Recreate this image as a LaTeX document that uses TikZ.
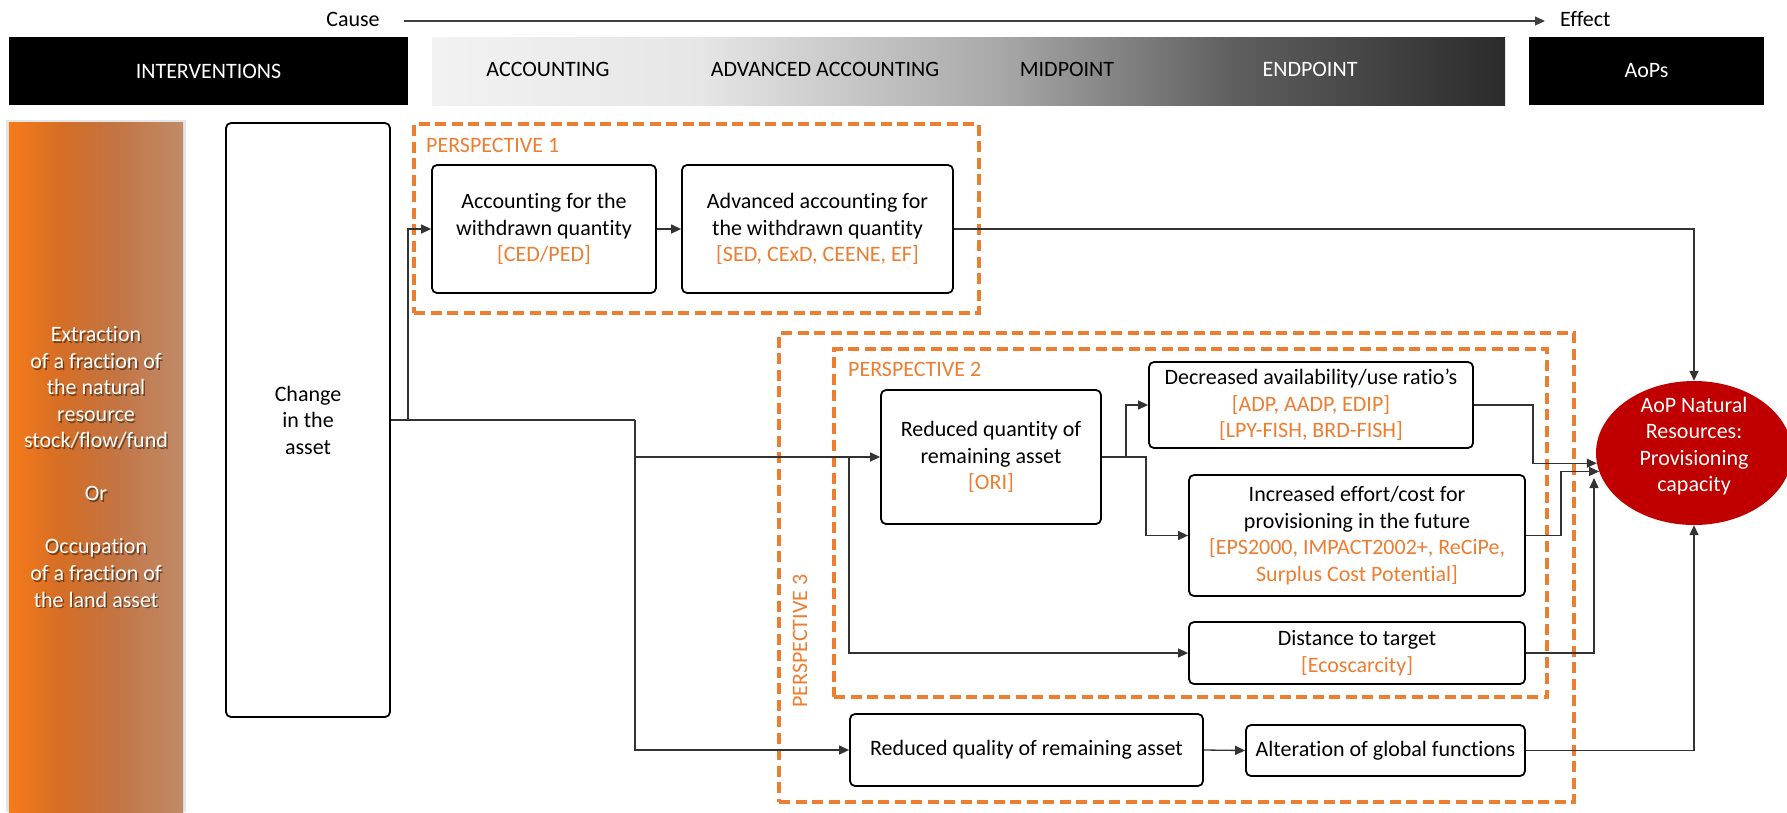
\documentclass[tikz,border=0pt]{standalone}
\usepackage{fontspec}
\setmainfont{Carlito}[Ligatures=NoCommon]
\usetikzlibrary{shapes.geometric,arrows.meta}

\definecolor{porange}{HTML}{ED7D31}
\definecolor{aopred}{HTML}{C00000}
\definecolor{linegray}{HTML}{333333}
% stage bar greys
\definecolor{hgA}{HTML}{F2F2F2}
\definecolor{hgB}{HTML}{E6E6E6}
\definecolor{hgC}{HTML}{A8A8A8}
\definecolor{hgD}{HTML}{5E5E5E}
\definecolor{hgE}{HTML}{2B2B2B}
% intervention panel oranges
\definecolor{poA}{HTML}{F67A1A}
\definecolor{poB}{HTML}{D56E26}
\definecolor{poC}{HTML}{C37442}
\definecolor{poD}{HTML}{C08A69}

\pgfdeclarehorizontalshading{stageshade}{100bp}{color(0bp)=(hgA); color(25bp)=(hgA); color(37.5bp)=(hgB); color(51.5bp)=(hgC); color(62.5bp)=(hgD); color(75bp)=(hgE); color(100bp)=(hgE)}
\pgfdeclarehorizontalshading{panelshade}{100bp}{color(0bp)=(poA); color(25bp)=(poA); color(40bp)=(poB); color(55bp)=(poC); color(75bp)=(poD); color(100bp)=(poD)}

\newcommand\txt{\fontsize{22pt}{26.5pt}\selectfont}
\newcommand\og[1]{\textcolor{porange}{#1}}
\newcommand\paneltext{Extraction\\of a fraction of\\the natural\\resource\\stock/flow/fund\\[26.5pt]Or\\[26.5pt]Occupation\\of a fraction of\\the land asset}

\begin{document}
\begin{tikzpicture}[x=1pt,y=-1pt,
  lbl/.style={font=\txt, inner sep=0pt, text height=15pt, text depth=4pt},
  hdrbox/.style={fill=black, minimum height=68pt, inner sep=0pt, font=\txt, text=white},
  box/.style={draw=black, line width=1.8pt, rounded corners=5pt, fill=white, align=center, inner sep=0pt, font=\txt},
  persp/.style={draw=porange, line width=3.6pt, dash pattern=on 11pt off 5.5pt, inner sep=0pt},
  plabel/.style={font=\txt, text=porange, inner sep=0pt},
  conn/.style={draw=linegray, line width=1.3pt},
  arr/.style={conn, -{Triangle[length=10pt,width=9pt]}},
]
\useasboundingbox (0,0) rectangle (1787,812);
\fill[white] (0,0) rectangle (1787,812);

% ---- cause / effect axis ----
\node[lbl] (cause) at (353,21) {Cause};
\node[lbl, anchor=west] (effect) at (1560,21) {Effect};
\draw[arr, draw=black!75, line width=1.1pt, shorten <=24pt, shorten >=15pt] (cause.east) -- (effect.west);

% ---- header bar ----
\node[hdrbox, minimum width=399pt] (interv) at (208.5,71) {INTERVENTIONS};
\node[minimum width=1073pt, minimum height=68pt, inner sep=0pt, shade, shading=stageshade] (stages) at (968.5,71) {};
\node[hdrbox, minimum width=235pt] (aops) at (1646.5,71) {AoPs};
\node[lbl] (hacc) at (548,71) {ACCOUNTING};
\node[lbl] (hadv) at (825,71) {ADVANCED ACCOUNTING};
\node[lbl] (hmid) at (1067,71) {MIDPOINT};
\node[lbl, text=white] (hend) at (1310,71) {ENDPOINT};

% ---- intervention panel ----
\fill[black, opacity=0.10] (6,120) rectangle (186,812);
\node[minimum width=174pt, minimum height=700pt, inner sep=0pt, shade, shading=panelshade] (panel) at (96,472) {};
\node[font=\txt, align=center, inner sep=0pt, text=black, opacity=0.45] (panelshadow) at (97.5,468.5) {\paneltext};
\node[font=\txt, align=center, inner sep=0pt, text=white] (paneltxt) at (96,467) {\paneltext};

% ---- perspective frames ----
\node[persp, minimum width=565pt, minimum height=189pt] (p1) at (696.5,218.5) {};
\node[persp, minimum width=795pt, minimum height=469pt] (p3) at (1176.5,567.5) {};
\node[persp, minimum width=713pt, minimum height=348pt] (p2) at (1190.5,523) {};
\node[plabel, anchor=west] (p1lbl) at (426,145) {PERSPECTIVE 1};
\node[plabel, anchor=west] (p2lbl) at (848,369) {PERSPECTIVE 2};
\node[plabel, rotate=90] (p3lbl) at (800,641) {PERSPECTIVE 3};

% ---- boxes ----
\node[box, minimum width=164pt, minimum height=594pt] (change) at (308,420) {Change\\in the\\asset};
\node[box, minimum width=224pt, minimum height=128pt] (acc) at (544,229) {Accounting for the\\withdrawn quantity\\\og{[CED/PED]}};
\node[box, minimum width=271pt, minimum height=128pt] (adv) at (817.5,229) {Advanced accounting for\\the withdrawn quantity\\\og{[SED, CExD, CEENE, EF]}};
\node[box, minimum width=220pt, minimum height=134pt] (redqty) at (991,457) {Reduced quantity of\\remaining asset\\\og{[ORI]}};
\node[box, minimum width=324pt, minimum height=86pt] (decav) at (1311,405) {Decreased availability/use ratio’s\\\og{[ADP, AADP, EDIP]}\\\og{[LPY-FISH, BRD-FISH]}};
\node[box, minimum width=336pt, minimum height=121pt] (incr) at (1357,535.5) {Increased effort/cost for\\provisioning in the future\\\og{[EPS2000, IMPACT2002+, ReCiPe,}\\\og{Surplus Cost Potential]}};
\node[box, minimum width=336pt, minimum height=62pt] (dist) at (1357,653) {Distance to target\\\og{[Ecoscarcity]}};
\node[box, minimum width=353pt, minimum height=72pt] (redqual) at (1026.5,750) {Reduced quality of remaining asset};
\node[box, minimum width=279pt, minimum height=51pt] (alter) at (1385.5,750.5) {Alteration of global functions};
\node[ellipse, fill=aopred, minimum width=196pt, minimum height=144pt, inner sep=0pt] (aop) at (1694,453) {};
\node[align=center, font=\txt, text=white, inner sep=0pt] (aoptext) at (1694,446) {AoP Natural\\Resources:\\Provisioning\\capacity};

% ---- connectors ----
\coordinate (b1) at (408,420);
\coordinate (b2) at (635,420);
\coordinate (b3) at (849,457);
\coordinate (aopin) at (1594,478);
\draw[conn] (change.east) -- (b1) -- (b2);
\draw[arr] (b1) |- (acc.west);
\draw[arr] (acc.east) -- (adv.west);
\draw[arr] (b2) |- (redqty.west);
\draw[arr] (b2) |- (redqual.west);
\draw[arr] (b3) |- (dist.west);
\draw[arr] (redqty.east) -- ++(24,0) |- (decav.west);
\draw[arr] (redqty.east) -- ++(44,0) |- (incr.west);
\draw[arr] (redqual.east) -- (alter.west);
\draw[arr] (adv.east) -| (aop.north);
\draw[arr] (decav.east) -- ++(59,0) |- (aop.186);
\draw[arr] (incr.east) -- ++(35,0) |- (aop.191);
\draw[arr] (dist.east) -| (aopin);
\draw[arr] (alter.east) -| (aop.south);
\end{tikzpicture}
\end{document}
